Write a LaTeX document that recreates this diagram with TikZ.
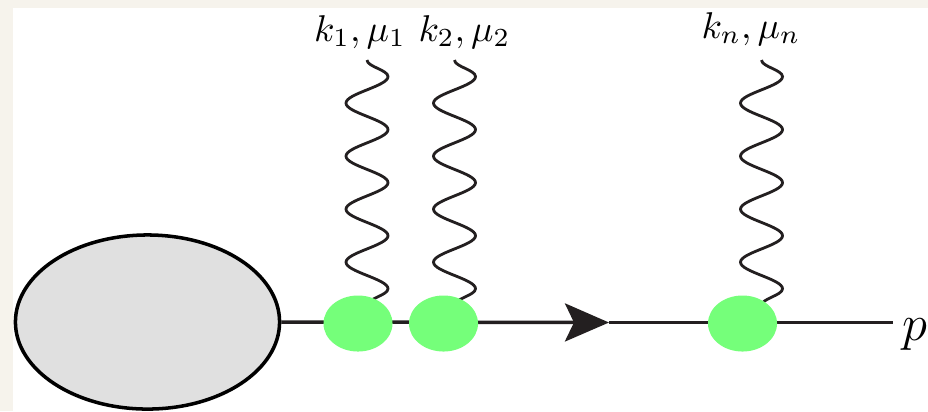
\documentclass[tikz,border=0pt]{standalone}
\usepackage{amsmath}
\usepackage{xcolor}
\usepackage{tikz}
\usetikzlibrary{
	arrows.meta,
	backgrounds,
	decorations.pathmorphing,
	shapes.geometric
}
\definecolor{PaperCream}{RGB}{246,243,236}
\definecolor{BlobGray}{RGB}{224,224,224}
\definecolor{VertexGreen}{RGB}{117,255,122}
\definecolor{LineBlack}{RGB}{35,31,32}
\tikzset{
	blob/.style={ellipse, draw=black, line width=1pt, fill=BlobGray, inner sep=0pt, minimum width=2.64cm, minimum height=1.74cm},
	vertex/.style={ellipse, fill=VertexGreen, inner sep=0pt, minimum width=0.69cm, minimum height=0.56cm},
	fermion/.style={line width=1pt, draw=LineBlack},
	photon/.style={line width=0.8pt, draw=LineBlack, decorate, decoration={snake, segment length=0.53cm, amplitude=0.21cm, post length=0pt}},
	leglabel/.style={anchor=base, scale=1.06}
}

\begin{document}
\begin{tikzpicture}[x=0.01cm, y=-0.01cm]
	\useasboundingbox (0,0) rectangle (928,411);
	\node[blob] (B) at (147.5,322) {};
	\node[vertex] (V1) at (358,323.5) {};
	\node[vertex] (V2) at (443.5,323.5) {};
	\node[vertex] (Vn) at (742.5,323.5) {};
	\coordinate (A) at (609,322.5);
	\coordinate (E) at (893,322.5);
	\coordinate (T1) at (367,60);
	\coordinate (T2) at (454.5,60);
	\coordinate (Tn) at (761.5,60);
	\coordinate (S1) at (367,331);
	\coordinate (S2) at (454.5,331);
	\coordinate (Sn) at (761.5,331);
	\begin{scope}[on background layer]
		\fill[PaperCream] (0,0) rectangle (928,411);
		\fill[white] (13,8) rectangle (928,411);
		\draw[fermion, -{Stealth[length=0.44cm, width=0.38cm, inset=0.09cm]}] (B.east) -- (A);
		\draw[fermion] (A) -- (E);
		\draw[photon] (T1) -- (S1);
		\draw[photon] (T2) -- (S2);
		\draw[photon] (Tn) -- (Sn);
	\end{scope}
	\node[leglabel] (L1) at (360,41) {$k_1,\mu_1$};
	\node[leglabel] (L2) at (464.5,41) {$k_2,\mu_2$};
	\node[leglabel] (Ln) at (751,38) {$k_n,\mu_n$};
	\node[anchor=base west, inner sep=0pt, font=\Large] (P) at (902,340) {$p$};
\end{tikzpicture}
\end{document}
